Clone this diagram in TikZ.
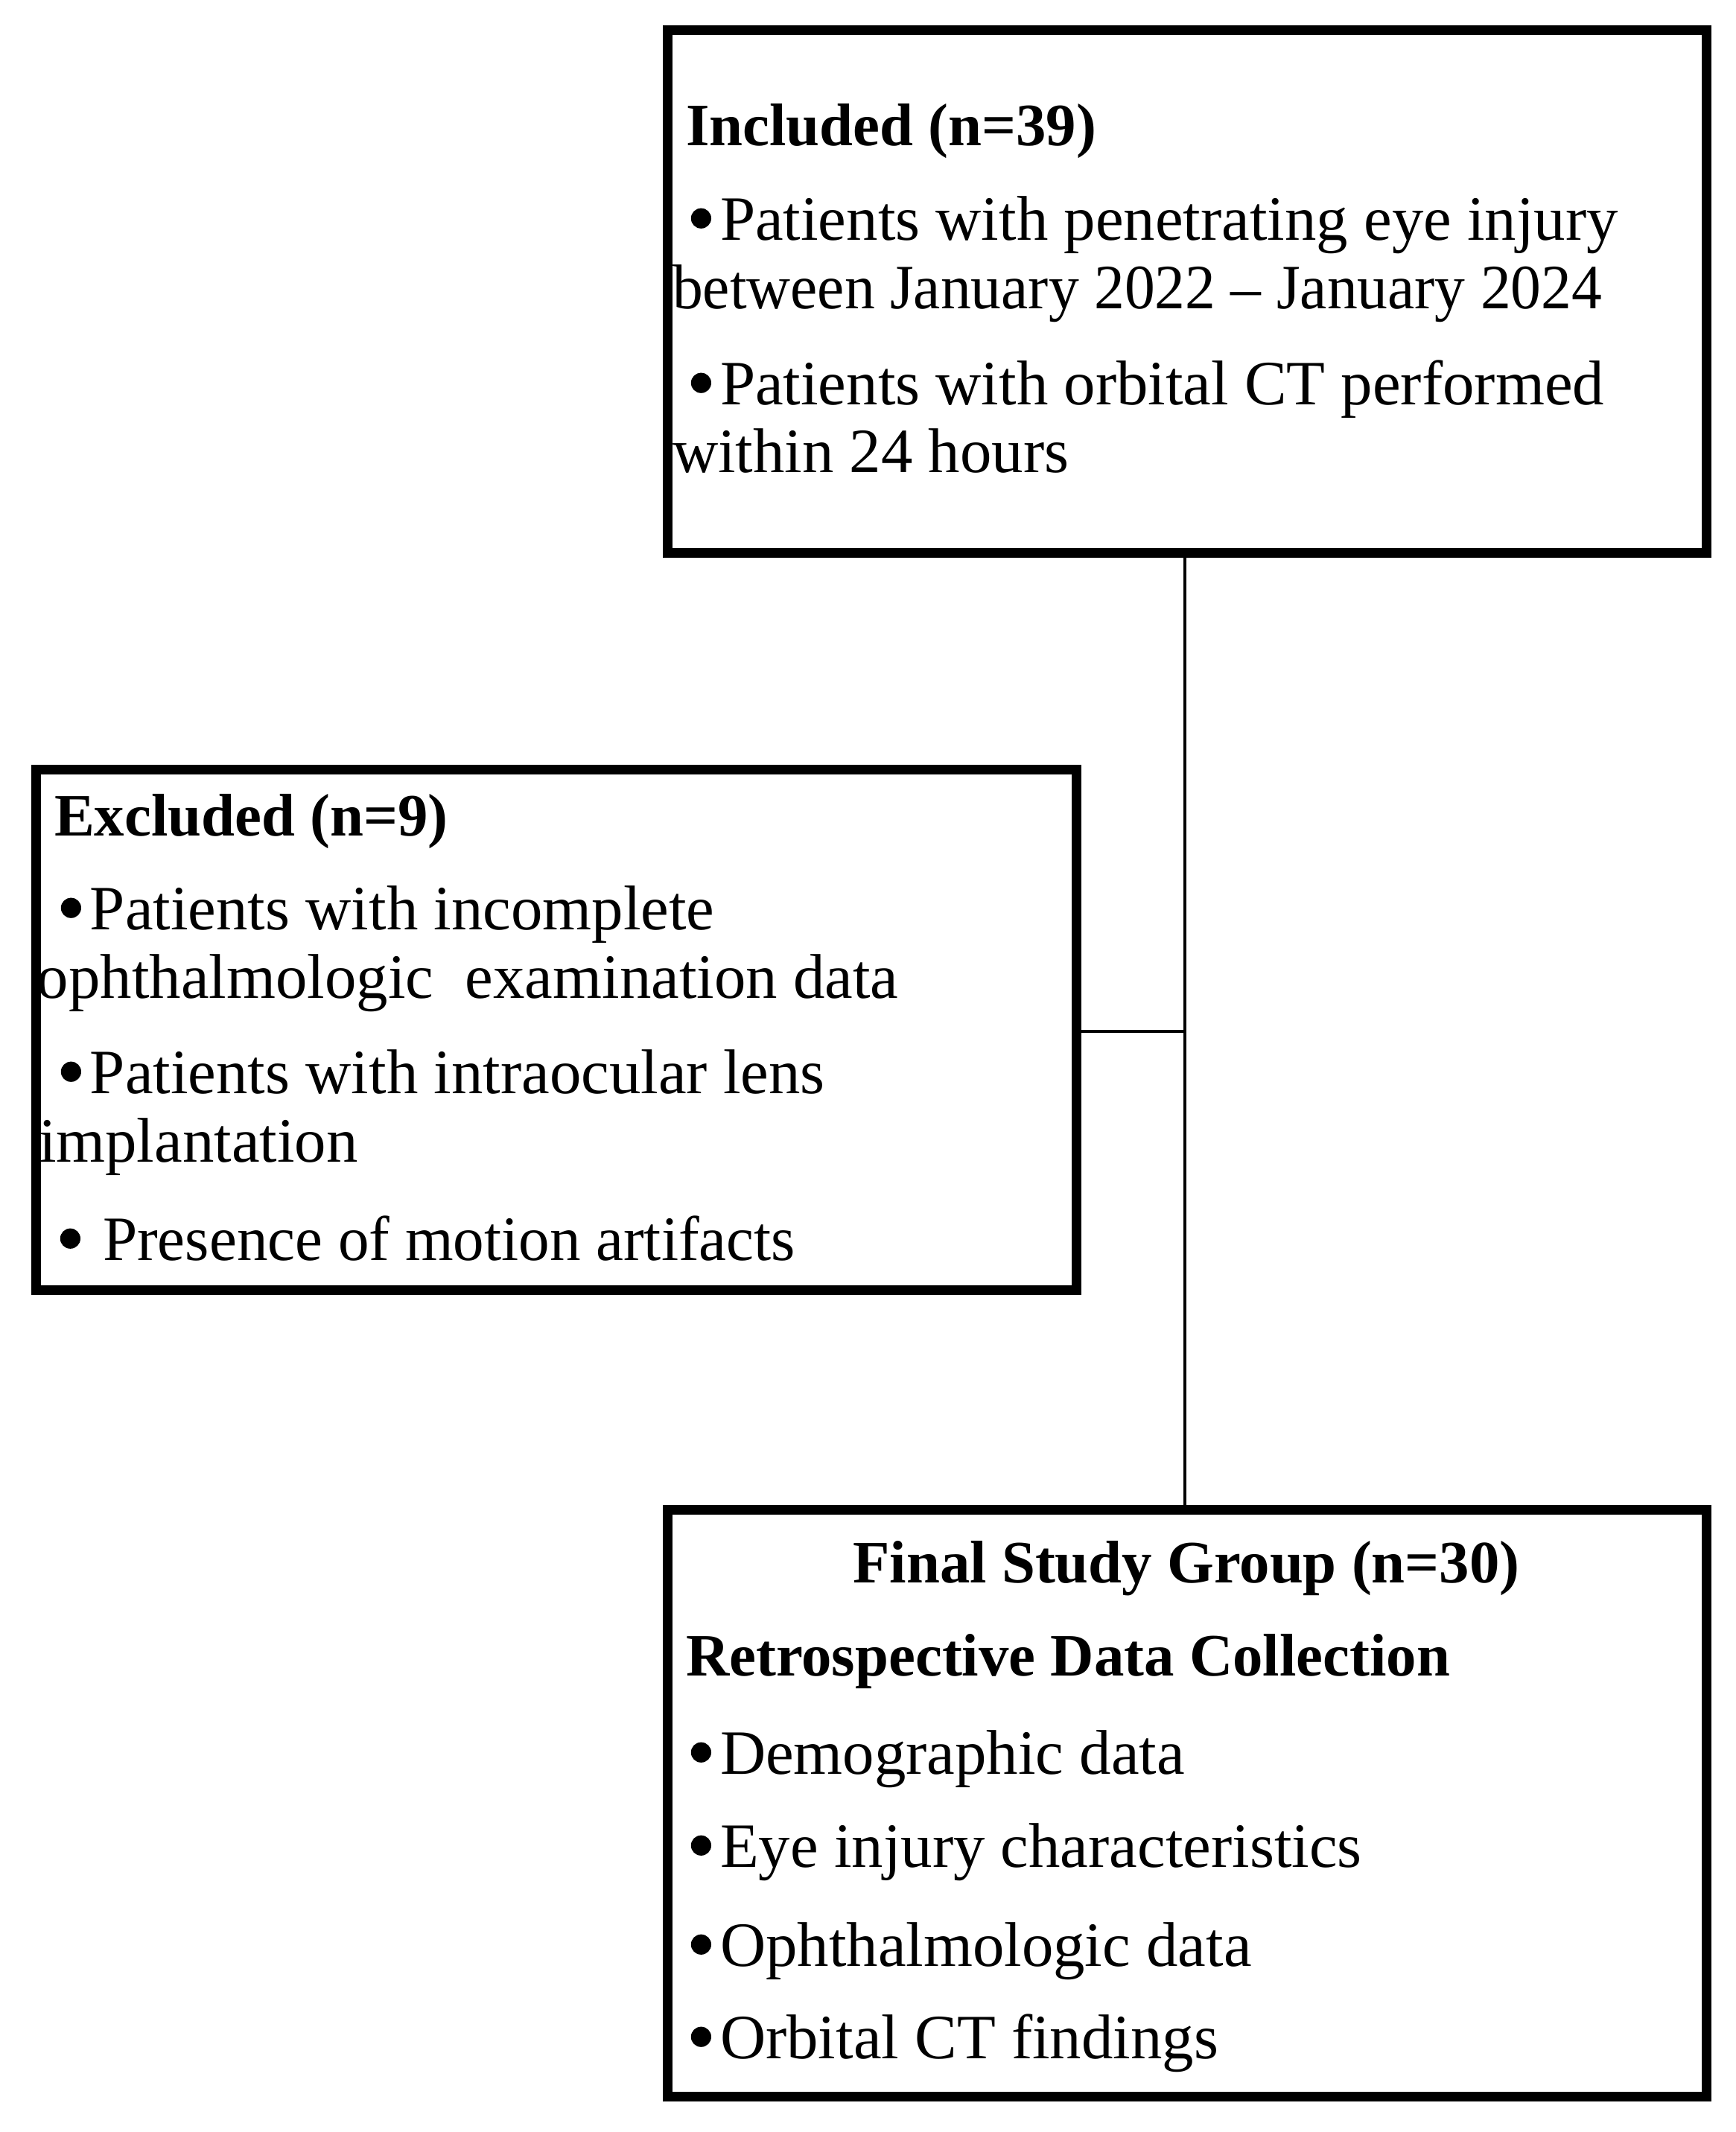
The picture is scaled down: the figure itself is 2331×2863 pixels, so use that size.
\documentclass[tikz,border=0pt]{standalone}
\usepackage{fontspec}
\usepackage{graphicx}
\setmainfont{Liberation Serif}
\usetikzlibrary{fit}
\newcommand\mybul[1]{\llap{\tikz[baseline=0pt]\fill[black] (0pt,7.2pt) circle[radius=3.4pt];\hspace{#1}}}
\begin{document}
\begin{tikzpicture}[x=0.25pt,y=-0.25pt,
  box/.style={draw=black,line width=3.25pt,inner sep=0pt,outer sep=0pt},
  txt/.style={anchor=base west,inner sep=0pt,outer sep=0pt,font=\fontsize{21.2}{25}\selectfont},
  hd/.style={txt,font=\fontsize{20.2}{24}\selectfont\bfseries},
  link/.style={line width=1.1pt,draw=black}]
\useasboundingbox (0,0) rectangle (2331,2863);
\fill[white] (0,0) rectangle (2331,2863);
% boxes
\node[box,fit={(896,40.5) (2291,742)}] (inc) {};
\node[box,fit={(48,1033.6) (1445,1732)}] (exc) {};
\node[box,fit={(896,2027) (2291,2815)}] (fin) {};
% connectors
\coordinate (j) at (1591,1385);
\draw[link] (inc.south -| j) -- (fin.north -| j);
\draw[link] (exc.east |- j) -- (j);
% included text
\node[hd] (ih) at (921,195) {Included (n=39)};
\node[txt] (i1) at (967,322) {\mybul{3pt}Patients with penetrating eye injury};
\node[txt] (i2) at (903,414) {\scalebox{0.962}[1]{between January 2022 -- January 2024}};
\node[txt] (i3) at (967,543) {\mybul{3pt}Patients with orbital CT performed};
\node[txt] (i4) at (903,634) {within 24 hours};
% excluded text
\node[hd] (eh) at (73,1122) {Excluded (n=9)};
\node[txt] (e1) at (121,1248) {\mybul{3pt}Patients with incomplete};
\node[txt] (e2) at (50,1340) {ophthalmologic\ \ examination data};
\node[txt] (e3) at (121,1468) {\mybul{3pt}Patients with intraocular lens};
\node[txt] (e4) at (52,1560) {implantation};
\node[txt] (e5) at (138,1692) {\mybul{7.5pt}\scalebox{0.98}[1]{Presence of motion artifacts}};
% final text
\node[hd,anchor=base] (fh) at (1593,2125) {Final Study Group (n=30)};
\node[hd] (f1) at (921,2250) {Retrospective Data Collection};
\node[txt] (f2) at (967,2382) {\mybul{3pt}Demographic data};
\node[txt] (f3) at (967,2507) {\mybul{3pt}Eye injury characteristics};
\node[txt] (f4) at (967,2640) {\mybul{3pt}Ophthalmologic data};
\node[txt] (f5) at (967,2764) {\mybul{3pt}Orbital CT findings};
\end{tikzpicture}
\end{document}
